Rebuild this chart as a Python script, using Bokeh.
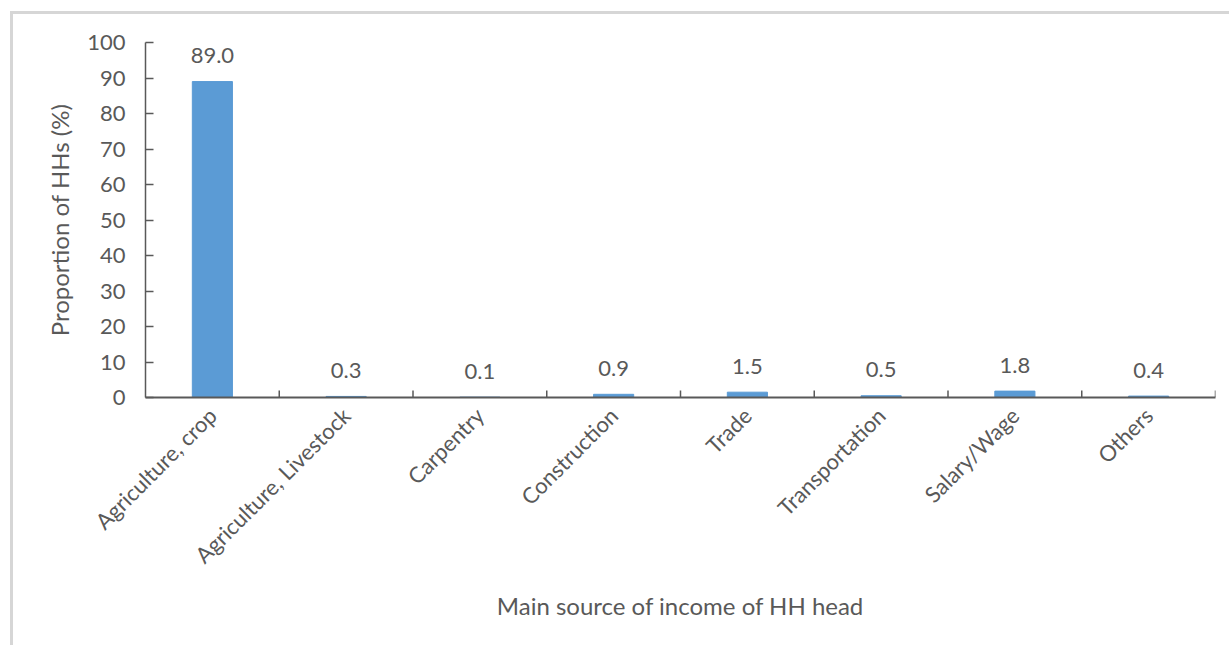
import math
from bokeh.plotting import figure
from bokeh.models import ColumnDataSource, FixedTicker
from bokeh.core.properties import value
from bokeh.embed import file_html
from bokeh.resources import INLINE

# Main source of income of household heads
categories = ["Agriculture, crop", "Agriculture, Livestock", "Carpentry", "Construction",
              "Trade", "Transportation", "Salary/Wage", "Others"]
shares = [89.0, 0.3, 0.1, 0.9, 1.5, 0.5, 1.8, 0.4]
y_ticks = [0, 10, 20, 30, 40, 50, 60, 70, 80, 90, 100]

FONT = "Lato"
TEXT = "#595959"
AXIS = "#595959"
BAR = "#5B9BD5"

src = ColumnDataSource(dict(cat=categories, val=shares,
                            lbl=[f"{v:.1f}" for v in shares]))

p = figure(x_range=categories, y_range=(0, 100), width=1219, height=634,
           output_backend="svg", toolbar_location=None,
           margin=(11, 0, 0, 10),
           min_border_left=132, min_border_right=17, min_border_top=28, min_border_bottom=251)
p.styles = {"border-left": "3px solid #d6d6d6", "border-top": "3px solid #d6d6d6"}
p.outline_line_color = None
p.grid.grid_line_color = None
p.background_fill_color = "white"
p.border_fill_color = "white"

p.vbar(x="cat", top="val", width=0.3, source=src, color=BAR)
p.text(x="cat", y="val", text="lbl", source=src, text_align="center",
       text_baseline="alphabetic", y_offset=-26, text_font=value(FONT),
       text_font_size="22px", text_color=TEXT)

# y axis
ya = p.yaxis[0]
ya.ticker = FixedTicker(ticks=y_ticks)
ya.minor_tick_line_color = None
ya.major_tick_in = 8
ya.major_tick_out = 0
ya.axis_line_color = AXIS
ya.major_tick_line_color = AXIS
ya.axis_line_width = 1.5
ya.major_tick_line_width = 1.5
ya.major_label_standoff = 20
ya.major_label_text_font = FONT
ya.major_label_text_font_size = "22px"
ya.major_label_text_color = TEXT
ya.axis_label = "Proportion of HHs (%)"
ya.axis_label_text_font = FONT
ya.axis_label_text_font_size = "24px"
ya.axis_label_text_font_style = "normal"
ya.axis_label_text_color = TEXT
ya.axis_label_standoff = 10

# x axis
xa = p.xaxis[0]
xa.major_tick_line_color = None
xa.major_label_orientation = math.pi / 4
xa.axis_line_color = AXIS
xa.axis_line_width = 2
xa.major_label_standoff = 8
xa.major_label_text_font = FONT
xa.major_label_text_font_size = "22px"
xa.major_label_text_color = TEXT
xa.axis_label = "Main source of income of HH head"
xa.axis_label_text_font = FONT
xa.axis_label_text_font_size = "24px"
xa.axis_label_text_font_style = "normal"
xa.axis_label_text_color = TEXT
xa.axis_label_standoff = 10

# tick marks at the category boundaries
sep = ColumnDataSource(dict(x=[(c, -0.5) for c in categories[1:]] + [(categories[-1], 0.5)]))
p.segment(x0="x", y0=0, x1="x", y1=2, source=sep, line_color=AXIS, line_width=1.5)

open("out.html", "w").write(file_html(p, INLINE))
